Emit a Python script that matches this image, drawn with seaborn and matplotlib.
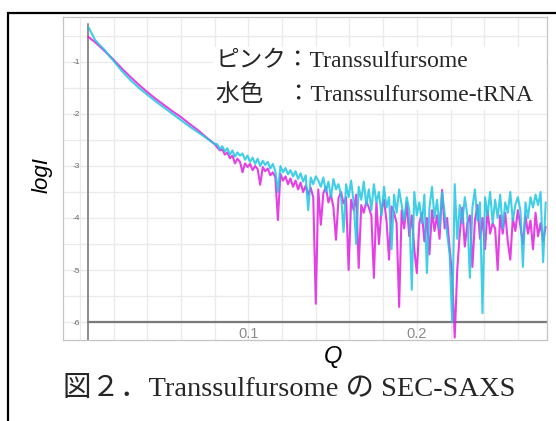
import numpy as np
import pandas as pd
import seaborn as sns
import matplotlib.pyplot as plt
from matplotlib.patches import Rectangle
from matplotlib.ticker import MultipleLocator

# smooth low-Q part
q_smooth = [0.005, 0.009, 0.014, 0.02, 0.025, 0.03, 0.035, 0.04, 0.045,
            0.05, 0.055, 0.06, 0.065, 0.07, 0.075, 0.08]
pink_smooth = [-0.52, -0.62, -0.77, -0.96, -1.13, -1.29, -1.44, -1.58, -1.71,
               -1.83, -1.95, -2.06, -2.19, -2.31, -2.45, -2.58]
cyan_smooth = [-0.33, -0.58, -0.75, -0.98, -1.18, -1.35, -1.50, -1.63, -1.76,
               -1.88, -2.00, -2.12, -2.24, -2.35, -2.46, -2.58]

# noisy high-Q part, Q = 0.0815 ... 0.2765
pink_noisy = [
    -2.64, -2.70, -2.68, -2.78, -2.74, -2.85, -2.80, -2.95, -2.86, -2.92,
    -3.12, -2.95, -3.02, -2.96, -3.08, -3.00, -3.06, -3.36, -3.02, -3.10,
    -3.05, -3.18, -3.12, -3.22, -4.04, -3.15, -3.28, -3.20, -3.35, -3.24,
    -3.40, -3.28, -3.45, -3.32, -3.50, -3.38, -3.55, -3.42, -3.60, -5.65,
    -3.45, -4.13, -3.52, -3.40, -3.70, -3.55, -3.80, -4.42, -3.62, -3.50,
    -3.72, -3.60, -5.00, -3.65, -3.85, -3.55, -4.96, -3.75, -3.90, -3.68,
    -3.80, -3.95, -5.15, -3.70, -4.50, -3.85, -3.65, -4.05, -4.80, -3.78,
    -3.90, -4.10, -5.71, -3.85, -4.20, -3.70, -4.35, -3.95, -4.60, -5.06,
    -4.10, -3.90, -4.45, -4.00, -4.70, -3.85, -4.25, -3.95, -4.40, -3.46,
    -4.20, -4.00, -4.60, -5.10, -6.30, -5.00, -4.30, -3.80, -4.55, -4.10,
    -3.95, -4.94, -4.05, -3.75, -4.40, -4.00, -4.60, -3.85, -4.30, -4.10,
    -4.20, -5.00, -3.95, -4.30, -3.90, -4.45, -4.80, -4.00, -4.25, -3.85,
    -4.15, -4.50, -3.95, -4.30, -4.05, -4.60, -3.90, -4.35, -4.10, -4.45,
    -4.17]
cyan_noisy = [
    -2.58, -2.68, -2.62, -2.72, -2.66, -2.78, -2.70, -2.82, -2.74, -2.80,
    -2.76, -2.88, -2.80, -2.92, -2.84, -2.96, -2.86, -3.00, -2.90, -2.98,
    -2.92, -3.05, -2.96, -3.10, -3.50, -3.00, -3.12, -3.04, -3.16, -3.08,
    -3.20, -3.10, -3.25, -3.14, -3.30, -3.18, -3.85, -3.22, -3.35, -3.20,
    -3.28, -3.40, -3.22, -3.50, -3.30, -3.60, -3.25, -3.45, -3.35, -3.55,
    -4.27, -3.35, -3.60, -3.28, -3.70, -4.50, -3.40, -3.65, -3.30, -3.75,
    -3.45, -3.85, -3.35, -3.70, -3.50, -3.95, -3.40, -3.80, -3.60, -4.60,
    -3.55, -3.90, -3.45, -3.75, -4.05, -3.60, -3.85, -5.38, -3.50, -3.95,
    -3.70, -4.10, -3.55, -5.06, -3.80, -3.40, -4.00, -3.65, -4.20, -3.50,
    -3.90, -4.30, -4.70, -6.00, -3.35, -4.40, -3.75, -4.10, -3.60, -3.95,
    -5.15, -3.80, -3.45, -4.05, -3.70, -5.83, -3.60, -3.95, -3.50, -4.10,
    -3.65, -4.00, -3.55, -4.20, -3.70, -3.90, -3.50, -4.05, -3.75, -3.60,
    -3.85, -4.94, -3.70, -4.00, -3.60, -3.80, -3.55, -3.75, -3.50, -4.85,
    -3.70]

q_noisy = np.linspace(0.0815, 0.2765, len(pink_noisy))

df = pd.concat([
    pd.DataFrame({'Q': np.r_[q_smooth, q_noisy], 'logI': pink_smooth + pink_noisy,
                  'sample': 'Transsulfursome'}),
    pd.DataFrame({'Q': np.r_[q_smooth, q_noisy], 'logI': cyan_smooth + cyan_noisy,
                  'sample': 'Transsulfursome-tRNA'}),
])

sns.set_style('white')
plt.rcParams['font.family'] = ['Liberation Sans', 'Noto Sans CJK JP']

W, H = 556, 421
fig = plt.figure(figsize=(W / 100, H / 100), dpi=100)
ax = fig.add_axes([63 / W, 1 - 340 / H, (547 - 63) / W, (340 - 17) / H])

sns.lineplot(data=df, x='Q', y='logI', hue='sample', estimator=None, sort=False,
             palette={'Transsulfursome': '#e01fe0', 'Transsulfursome-tRNA': '#1fc6e2'},
             linewidth=1.5, alpha=0.85, legend=False, ax=ax, zorder=3)

ax.set_xlim(-0.0101, 0.2773)
ax.set_ylim(-6.346, -0.135)

ax.xaxis.set_minor_locator(MultipleLocator(0.02))
ax.yaxis.set_minor_locator(MultipleLocator(0.5))
ax.set_xticks([0.1, 0.2])
ax.set_xticklabels(['0.1', '0.2'])
ax.set_yticks([-1, -2, -3, -4, -5, -6])
ax.set_yticklabels(['-1', '-2', '-3', '-4', '-5', '-6'])
ax.grid(True, which='both', color='#ebebeb', linewidth=1.0)
ax.set_axisbelow(True)
ax.tick_params(axis='y', which='both', length=0, pad=-12.5, labelsize=6, labelcolor='#666666')
ax.tick_params(axis='x', which='both', length=0, pad=-9, labelsize=10.5, labelcolor='#8a8a8a')

for s in ax.spines.values():
    s.set_color('#c4c4c4')
    s.set_linewidth(0.9)

# axis lines inside the panel
ax.axvline(0.005, ymin=0, ymax=0.978, color='#8c8c8c', linewidth=1.4, zorder=2)
ax.axhline(-6, xmin=0.0525, xmax=1, color='#7a7a7a', linewidth=1.6, zorder=2)

ax.set_xlabel('')
ax.set_ylabel('')
fig.text(42 / W, 1 - 175 / H, 'logI', rotation=90, style='italic', fontsize=16,
         ha='center', va='center', color='black')
fig.text(333 / W, 1 - 357 / H, 'Q', style='italic', fontsize=17,
         ha='center', va='center', color='black')

serif = ['Liberation Serif', 'Noto Sans CJK JP']
fig.patches.append(Rectangle((213 / W, 1 - 110 / H), (546 - 213) / W, 63 / H,
                             transform=fig.transFigure, facecolor='white',
                             edgecolor='none', zorder=2))
fig.text(216 / W, 1 - 62 / H, 'ピンク：Transsulfursome', family=serif,
         fontsize=17, va='center', ha='left', zorder=4)
fig.text(216 / W, 1 - 95 / H, '水色\u3000：Transsulfursome-tRNA', family=serif,
         fontsize=17, va='center', ha='left', zorder=4)

fig.text(289 / W, 1 - 390 / H, '図２．Transsulfursome の SEC-SAXS', family=serif,
         fontsize=20.5, va='center', ha='center')

# outer black frame (left and top edges visible)
fig.patches.append(Rectangle((8 / W, -0.2), 1.2, 0.2 + 1 - 13 / H,
                             transform=fig.transFigure, facecolor='none',
                             edgecolor='black', linewidth=1.6, zorder=5))

fig.savefig('out.png', dpi=100)
